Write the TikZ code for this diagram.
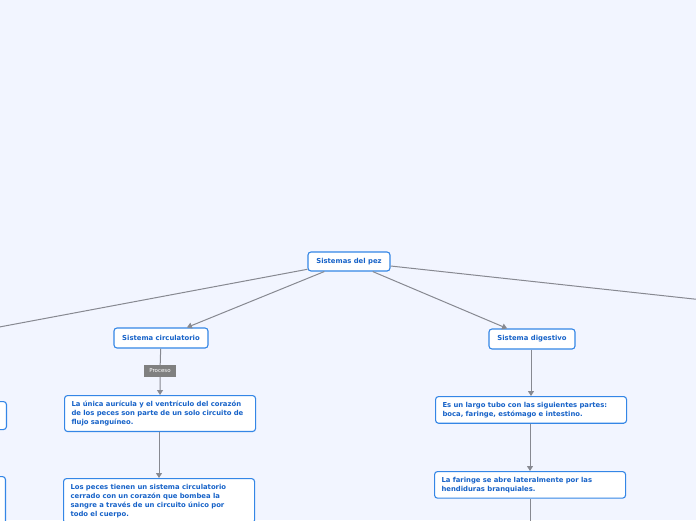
\documentclass[tikz,border=0pt]{standalone}
\usepackage{fontspec}
\newfontfamily\mapfont{DejaVu Sans}
\usetikzlibrary{arrows.meta,positioning}
\definecolor{canvas}{RGB}{242,245,255}
\definecolor{topicline}{RGB}{52,134,230}
\definecolor{topictext}{RGB}{22,98,200}
\definecolor{linkgray}{RGB}{135,137,145}
\definecolor{tagfill}{RGB}{128,128,128}
\tikzset{
  topic/.style={rectangle,rounded corners=3pt,draw=topicline,line width=1.1pt,fill=white,
    font=\mapfont\bfseries\fontsize{6.85}{9}\selectfont,text=topictext,inner sep=0pt,
    minimum height=20pt},
  note/.style={topic,align=left,text width=177pt,inner xsep=7pt,inner ysep=5.5pt},
  link/.style={draw=linkgray,line width=1pt},
  arrowlink/.style={link,-{Triangle[length=5pt,width=6pt]}},
  tag/.style={rectangle,fill=tagfill,text=white,font=\mapfont\fontsize{5.5}{6}\selectfont,
    inner sep=0pt,minimum width=32pt,minimum height=12pt}
}

\begin{document}
\begin{tikzpicture}[x=1pt,y=-1pt]
  \useasboundingbox (0,0) rectangle (696,520);
  \fill[canvas] (0,0) rectangle (696,520);
  \clip (0,0) rectangle (696,520);

  \node[topic,minimum width=82pt,minimum height=19pt] (root) at (349,261.5) {Sistemas del pez};
  \node[topic,minimum width=94pt] (circ) at (161,338) {Sistema circulatorio};
  \node[topic,minimum width=86pt] (dig) at (532,339) {Sistema digestivo};
  \coordinate (lmain) at (-150,355);
  \coordinate (rmain) at (850,316);

  \node[tag] (proc) at (160,371) {Proceso};
  \node[note,anchor=north west] (circA) at (64,395)
    {La única aurícula y el ventrículo del corazón\\de los peces son parte de un solo circuito de\\flujo sanguíneo.};
  \node[note,anchor=north west] (circB) at (63,478)
    {Los peces tienen un sistema circulatorio\\cerrado con un corazón que bombea la\\sangre a través de un circuito único por\\todo el cuerpo.};

  \node[note,anchor=north west] (digA) at (435,396)
    {Es un largo tubo con las siguientes partes:\\boca, faringe, estómago e intestino.};
  \node[note,anchor=north west] (digB) at (434,471)
    {La faringe se abre lateralmente por las\\hendiduras branquiales.};
  \coordinate (digdown) at (530,560);

  % boxes cut by the left edge
  \node[topic,minimum width=190pt,minimum height=28pt,anchor=north east] (leftA) at (7,401) {};
  \node[topic,minimum width=190pt,minimum height=60pt,anchor=north east] (leftB) at (6,476) {};

  \draw[link] (root) -- (lmain);
  \draw[link] (root) -- (rmain);
  \draw[arrowlink] (root) -- (circ);
  \draw[arrowlink] (root) -- (dig);
  \draw[link] (circ) -- (proc);
  \draw[arrowlink] (proc) -- (circA);
  \draw[arrowlink] (circA.south -| 159,0) -- (circB.north -| 159,0);
  \draw[arrowlink] (dig.south -| 531,0) -- (digA.north -| 531,0);
  \draw[arrowlink] (digA.south -| 530,0) -- (digB.north -| 530,0);
  \draw[link] (digB.south -| 530,0) -- (digdown);
\end{tikzpicture}
\end{document}
